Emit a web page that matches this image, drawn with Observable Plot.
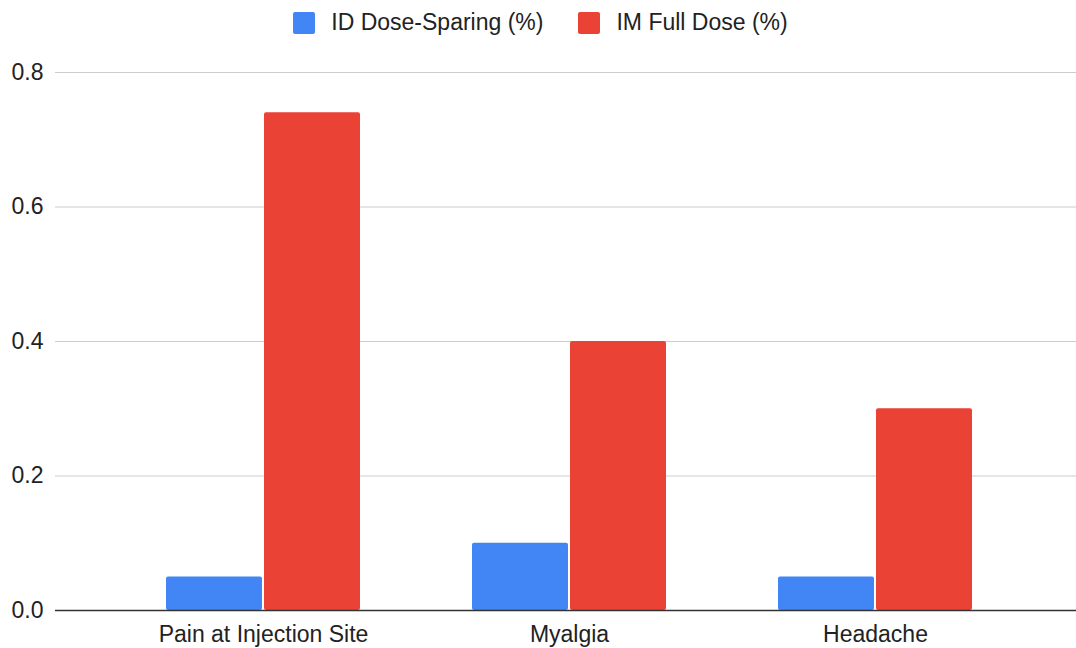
<!DOCTYPE html>
<html><head><meta charset="utf-8">
<script src="https://cdn.jsdelivr.net/npm/d3@7"></script>
<script src="https://cdn.jsdelivr.net/npm/@observablehq/plot@0.6"></script>
<style>
body{margin:0;background:#fff;font-family:"Liberation Sans",Arial,sans-serif;}
#legend{height:45px;display:flex;align-items:center;justify-content:center;font-size:23px;color:#222;padding-left:5px;box-sizing:border-box;width:1076px;}
.item{display:flex;align-items:center;}
.item + .item{margin-left:35px;}
.sw{width:22px;height:22px;border-radius:2px;margin-right:16px;}
</style></head>
<body>
<div id="legend"></div>
<div id="chart"></div>
<script>
const categories = ["Pain at Injection Site", "Myalgia", "Headache"];
const seriesNames = ["ID Dose-Sparing (%)", "IM Full Dose (%)"];
const idValues = [0.05, 0.10, 0.05];
const imValues = [0.74, 0.40, 0.30];
const yTicks = [0, 0.2, 0.4, 0.6, 0.8];
const colors = ["#4285F4", "#EA4335"];

const idData = categories.map((c, i) => ({category: c, value: idValues[i]}));
const imData = categories.map((c, i) => ({category: c, value: imValues[i]}));

const legend = document.getElementById("legend");
seriesNames.forEach((s, i) => {
  const it = document.createElement("div");
  it.className = "item";
  it.innerHTML = `<div class="sw" style="background:${colors[i]}"></div><span>${s}</span>`;
  legend.appendChild(it);
});

const chart = Plot.plot({
  width: 1076,
  height: 603,
  marginLeft: 55,
  marginRight: 0,
  marginTop: 27,
  marginBottom: 38,
  style: {fontFamily: "'Liberation Sans', Arial, sans-serif", fontSize: "23px", color: "#222", background: "#fff"},
  x: {domain: categories, range: [109, 1028], padding: 0, label: null, tickSize: 0, tickPadding: 15},
  y: {domain: [0, 0.8], ticks: yTicks, tickFormat: d3.format(".1f"), label: null, tickSize: 0, tickPadding: 12},
  marks: [
    Plot.ruleY(yTicks.filter(d => d > 0), {stroke: "#cccccc", strokeWidth: 1}),
    Plot.barY(idData, {x: "category", y: "value", fill: colors[0], insetLeft: 56, insetRight: 154, rx: 2}),
    Plot.barY(imData, {x: "category", y: "value", fill: colors[1], insetLeft: 154, insetRight: 56, rx: 2}),
    Plot.ruleY([0], {stroke: "#333", strokeWidth: 1.5})
  ]
});
document.getElementById("chart").appendChild(chart);
</script>
</body></html>
